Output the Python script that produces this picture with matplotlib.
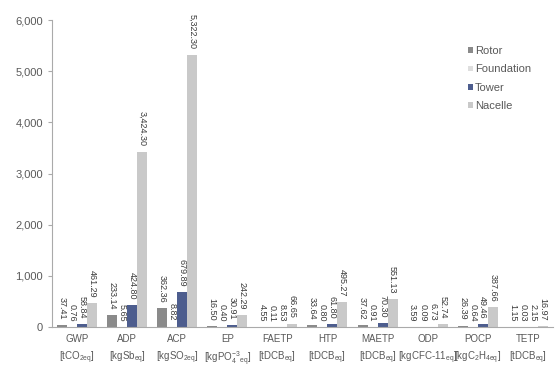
import matplotlib
matplotlib.use('Agg')
import matplotlib.pyplot as plt
import numpy as np
from matplotlib.ticker import FuncFormatter

plt.rcParams['font.family'] = ['Liberation Sans', 'DejaVu Sans']
plt.rcParams['mathtext.default'] = 'regular'

categories = ['GWP', 'ADP', 'ACP', 'EP', 'FAETP', 'HTP', 'MAETP', 'ODP', 'POCP', 'TETP']
units = [r'[tCO$_{2eq}$]', r'[kgSb$_{eq}$]', r'[kgSO$_{2eq}$]', r'[kgPO$_{4}^{-3}$$_{eq}$]',
         r'[tDCB$_{eq}$]', r'[tDCB$_{eq}$]', r'[tDCB$_{eq}$]', r'[kgCFC-11$_{eq}$]',
         r'[kgC$_2$H$_{4eq}$]', r'[tDCB$_{eq}$]']

rotor = [37.41, 233.14, 362.36, 16.50, 4.55, 33.64, 37.62, 3.59, 26.39, 1.15]
foundation = [0.76, 5.65, 8.82, 0.40, 0.11, 0.80, 0.91, 0.09, 0.64, 0.03]
tower = [58.84, 424.80, 679.89, 30.91, 8.53, 61.80, 70.30, 6.73, 49.46, 2.15]
nacelle = [461.29, 3424.30, 5322.30, 242.29, 66.65, 495.27, 551.13, 52.74, 387.66, 16.97]

series = [('Rotor', rotor, '#8a8a8a'),
          ('Foundation', foundation, '#dedede'),
          ('Tower', tower, '#4d5d8e'),
          ('Nacelle', nacelle, '#c9c9c9')]

narrow = ['Liberation Sans Narrow', 'Liberation Sans', 'DejaVu Sans']

fig = plt.figure(figsize=(5.59, 3.71), dpi=100)
ax = fig.add_axes([0.093, 0.1186, 0.896, 0.8274])

x = np.arange(len(categories))
w = 0.2
offsets = [-0.3, -0.1, 0.1, 0.3]

for (name, vals, col), off in zip(series, offsets):
    ax.bar(x + off, vals, w, color=col, label=name)
    for xi, v in zip(x, vals):
        ax.annotate('{:,.2f}'.format(v), (xi + off, v), xytext=(0, 4),
                    textcoords='offset points', rotation=-90, family=narrow,
                    ha='center', va='bottom', fontsize=6.5, color='#3a3a3a')

ax.set_ylim(0, 6000)
ax.set_xlim(-0.5, 9.5)
ax.set_yticks(range(0, 6001, 1000))
ax.yaxis.set_major_formatter(FuncFormatter(lambda v, p: '{:,.0f}'.format(v)))
ax.set_xticks(x)
ax.set_xticklabels([c + '\n' + u for c, u in zip(categories, units)], fontsize=7,
                   color='#595959', linespacing=1.5, family=narrow)
ax.tick_params(axis='x', length=0, pad=5)
ax.tick_params(axis='y', labelsize=8, labelcolor='#595959', color='#aaaaaa', length=3)

for s in ['top', 'right']:
    ax.spines[s].set_visible(False)
ax.spines['left'].set_color('#aaaaaa')
ax.spines['bottom'].set_color('#aaaaaa')

ax.legend(loc='upper left', bbox_to_anchor=(0.83, 0.915), frameon=False, fontsize=8,
          handlelength=0.45, handleheight=0.45, handletextpad=0.2, labelspacing=0.75,
          borderpad=0, borderaxespad=0, labelcolor='#595959')

plt.savefig('out.png', dpi=100)
plt.close('all')
